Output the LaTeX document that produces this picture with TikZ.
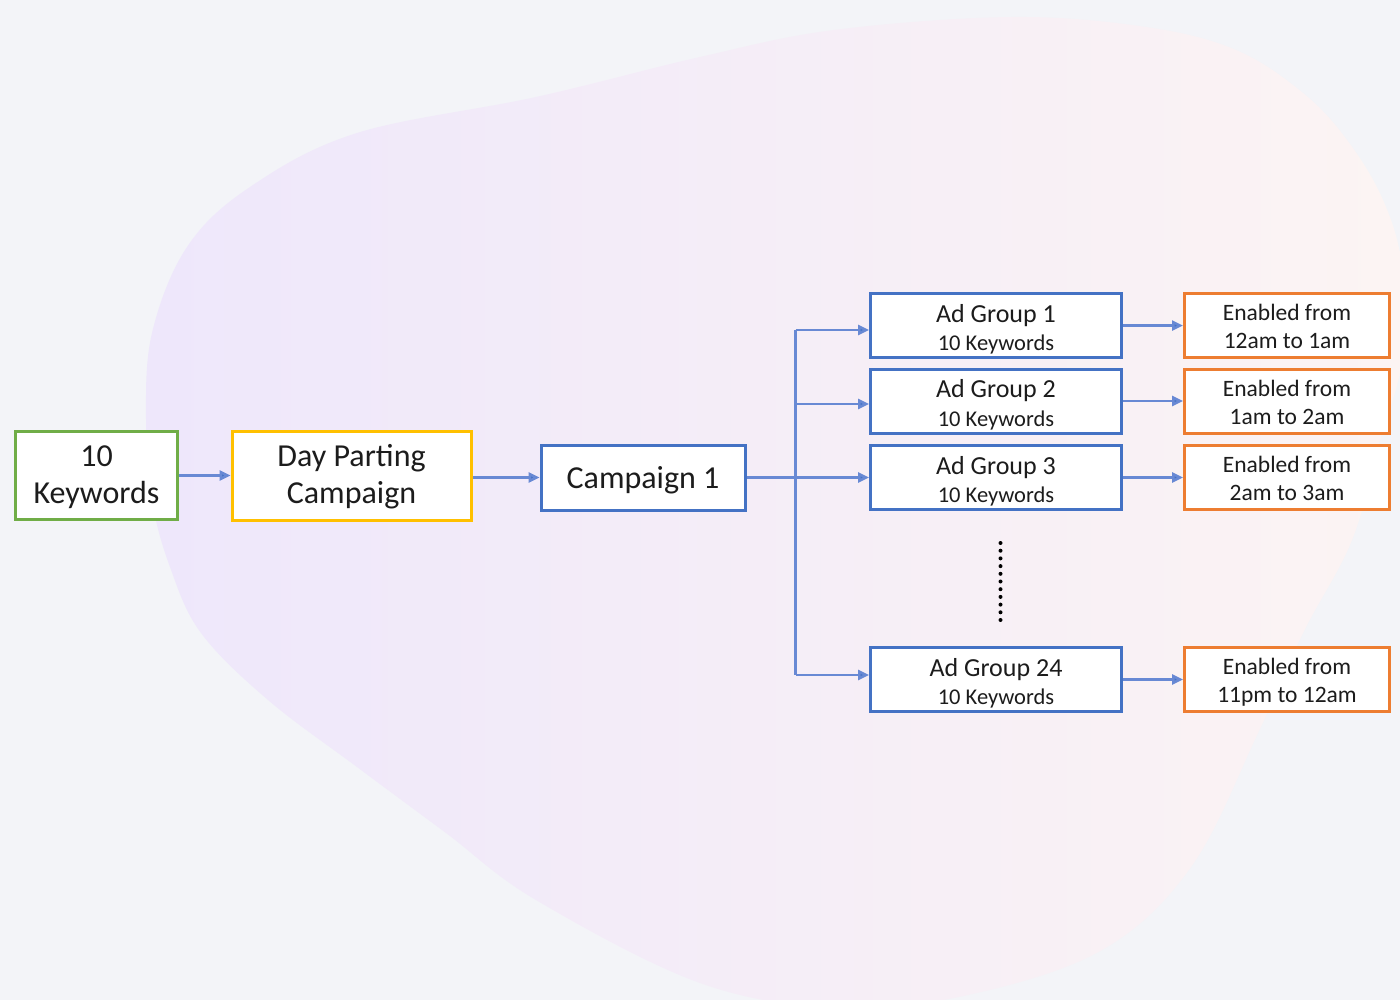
\documentclass[tikz,border=0pt]{standalone}
\usepackage{fontspec}
\setmainfont{Carlito}
\usetikzlibrary{arrows.meta}

\definecolor{pagebg}{RGB}{243,244,248}
\definecolor{blobleft}{RGB}{238,231,251}
\definecolor{blobright}{RGB}{252,244,243}
\definecolor{ink}{RGB}{28,28,28}
\definecolor{kwgreen}{RGB}{112,173,71}
\definecolor{dpgold}{RGB}{255,192,0}
\definecolor{grpblue}{RGB}{68,114,196}
\definecolor{hourorange}{RGB}{237,125,49}
\definecolor{linkblue}{RGB}{104,137,212}

\tikzset{
  box/.style={draw, fill=white, line width=3pt, inner sep=0pt},
  kwbox/.style={box, draw=kwgreen, minimum width=162pt, minimum height=88pt},
  dpbox/.style={box, draw=dpgold, minimum width=239pt, minimum height=89pt},
  cbox/.style={box, draw=grpblue, minimum width=204pt, minimum height=65pt},
  grpbox/.style={box, draw=grpblue, minimum width=251pt, minimum height=64pt},
  hourbox/.style={box, draw=hourorange, minimum width=205pt, minimum height=64pt},
  txt/.style={anchor=base, inner sep=0pt, text=ink},
  bigtxt/.style={txt, font=\fontsize{32}{38}\selectfont},
  grptxt/.style={txt, font=\fontsize{26}{30}\selectfont},
  subtxt/.style={txt, font=\fontsize{22.5}{26}\selectfont},
  hourtxt/.style={txt, font=\fontsize{23.5}{27}\selectfont},
  link/.style={draw=linkblue, line width=2.5pt},
  arr/.style={link, -{Triangle[length=11pt,width=10pt,fill=grpblue]}},
  ellipsisdots/.style={draw=black, line width=4pt, line cap=round, dash pattern=on 0pt off 7.7pt}
}

\begin{document}
\begin{tikzpicture}[x=1pt,y=-1pt]
  % page and background blob
  \fill[pagebg] (0,0) rectangle (1400,1000);
  \useasboundingbox (0,0) rectangle (1400,1000);
  \begin{scope}
    \clip (0,0) rectangle (1400,1000);
    \shade[left color=blobleft, right color=blobright]
      plot[smooth cycle, tension=0.6] coordinates {
        (146,420) (152,333) (187,247) (250,187) (357,133) (536,97) (700,57)
        (834,30) (1012,17) (1146,27) (1236,50) (1303,93) (1347,140) (1383,200)
        (1402,267) (1402,360) (1380,440) (1352,540) (1303,633) (1258,733)
        (1191,867) (1102,950) (968,995) (840,1008) (700,983) (536,900)
        (446,833) (357,767) (268,700) (201,633) (170,567) (152,500)};
  \end{scope}

  % pipeline boxes
  \node[kwbox] (kw) at (96.5,475.5) {};
  \node[bigtxt] (kw-a) at (96.5,466.7) {10};
  \node[bigtxt] (kw-b) at (96.5,503.3) {Keywords};

  \node[dpbox] (dp) at (351.5,475.5) {};
  \node[bigtxt] (dp-a) at (351.5,466.7) {Day Parting};
  \node[bigtxt] (dp-b) at (351.5,503.3) {Campaign};

  \node[cbox] (c1) at (643,477.5) {};
  \node[bigtxt] (c1-a) at (643,488.3) {Campaign 1};

  % ad groups and their hours
  \foreach \name/\yy/\num/\hours in {g1/325.6/1/12am to 1am, g2/401/2/1am to 2am,
                                     g3/477.5/3/2am to 3am, g24/679.5/24/11pm to 12am}{
    \node[grpbox] (ag\name) at (996,\yy) {};
    \node[grptxt] (ag\name-a) at (996,\yy-3.5) {Ad Group \num};
    \node[subtxt] (ag\name-b) at (996,\yy+25) {10 Keywords};
    \node[hourbox] (en\name) at (1287,\yy) {};
    \node[hourtxt] (en\name-a) at (1287,\yy-5) {Enabled from};
    \node[hourtxt] (en\name-b) at (1287,\yy+23) {\hours};
    \draw[arr] (ag\name.east) -- (en\name.west);
  }

  % main flow
  \draw[arr] (kw.east) -- (dp.west);
  \draw[arr] (dp.east |- c1.west) -- (c1.west);
  \draw[arr] (c1.east) -- (agg3.west);

  % fan-out trunk to the ad groups
  \coordinate (split) at (795.7,478);
  \coordinate (in1) at ([yshift=-4.4pt]agg1.west);
  \coordinate (in2) at ([yshift=-3pt]agg2.west);
  \coordinate (in24) at ([yshift=4.5pt]agg24.west);
  \draw[link] (in1 -| split) -- (in24 -| split);
  \draw[arr] (in1 -| split) -- (in1);
  \draw[arr] (in2 -| split) -- (in2);
  \draw[arr] (in24 -| split) -- (in24);

  % ellipsis between groups 3 and 24
  \draw[ellipsisdots] (1000.5,543) -- (1000.5,620);
\end{tikzpicture}
\end{document}
